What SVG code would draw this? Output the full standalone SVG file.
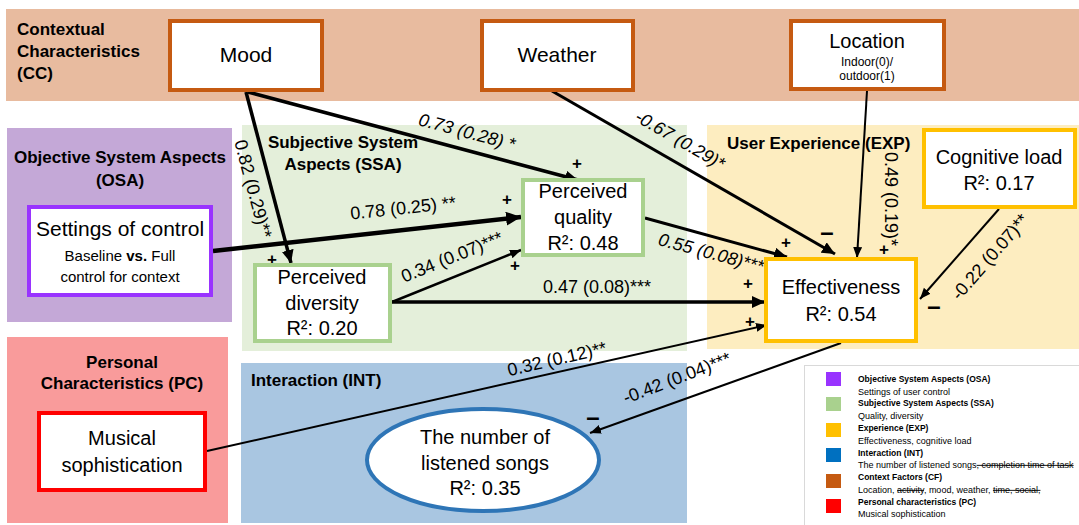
<svg xmlns="http://www.w3.org/2000/svg" width="1079" height="525" viewBox="0 0 1079 525">
<style>
text{font-family:"Liberation Sans",Arial,sans-serif;fill:#000}
.ttl{font-size:17px;font-weight:bold}
.nd{font-size:20px;text-anchor:middle}
.nd21{font-size:21px;text-anchor:middle}
.lbl{font-size:18px;text-anchor:middle}
.it{font-style:italic}
.sg{font-size:17px;font-weight:bold;text-anchor:middle}
.mn{font-size:24px;font-weight:bold;text-anchor:middle}
.box{fill:#fff;stroke-width:4}
.cc{stroke:#c55a11}
.ssa{stroke:#a9d18e}
.exp{stroke:#ffc000}
.conn{stroke:#000;fill:none}
.lgb{font-size:8.5px;font-weight:bold}
.lgn{font-size:9px}
.strike{text-decoration:line-through}
</style>
<defs>
<marker id="ahL" markerUnits="userSpaceOnUse" markerWidth="16" markerHeight="14" refX="15" refY="7" orient="auto">
<path d="M0,0 L15,7 L0,14 z" fill="#000"/>
</marker>
<marker id="ahM" markerUnits="userSpaceOnUse" markerWidth="14" markerHeight="12" refX="13" refY="6" orient="auto">
<path d="M0,0 L13,6 L0,12 z" fill="#000"/>
</marker>
<marker id="ahS" markerUnits="userSpaceOnUse" markerWidth="12" markerHeight="10" refX="11" refY="4.5" orient="auto">
<path d="M0,0 L11,4.5 L0,9 z" fill="#000"/>
</marker>
</defs>

<g id="panels">
<rect x="6" y="9" width="1073" height="92" fill="#e8bb9f"/>
<rect x="7" y="128" width="225" height="194" fill="#c4a8d7"/>
<rect x="242" y="125" width="445" height="226" fill="#e4efda"/>
<rect x="707" y="125" width="372" height="224" fill="#fdedc0"/>
<rect x="7" y="337" width="221" height="186" fill="#f99b9b"/>
<rect x="241" y="363" width="446" height="160" fill="#a9c6e1"/>
<text class="ttl" x="17" y="35">Contextual</text>
<text class="ttl" x="17" y="57">Characteristics</text>
<text class="ttl" x="17" y="79">(CC)</text>
<text class="ttl" x="120" y="163" text-anchor="middle">Objective System Aspects</text>
<text class="ttl" x="120" y="186" text-anchor="middle">(OSA)</text>
<text class="ttl" x="343" y="148" text-anchor="middle">Subjective System</text>
<text class="ttl" x="343" y="170" text-anchor="middle">Aspects (SSA)</text>
<text class="ttl" x="727" y="149">User Experience (EXP)</text>
<text class="ttl" x="122" y="368" text-anchor="middle">Personal</text>
<text class="ttl" x="122" y="389" text-anchor="middle">Characteristics (PC)</text>
<text class="ttl" x="251" y="386">Interaction (INT)</text>
</g>

<g id="connectors">
<line class="conn" x1="246" y1="92" x2="291" y2="263" stroke-width="3.5" marker-end="url(#ahM)"/>
<line class="conn" x1="248" y1="92" x2="578" y2="180" stroke-width="3.5" marker-end="url(#ahM)"/>
<line class="conn" x1="213" y1="251" x2="521" y2="217" stroke-width="4.5" marker-end="url(#ahL)"/>
<line class="conn" x1="392" y1="302" x2="521" y2="250" stroke-width="2.5" marker-end="url(#ahS)"/>
<line class="conn" x1="392" y1="302" x2="765" y2="302" stroke-width="3.5" marker-end="url(#ahM)"/>
<line class="conn" x1="645" y1="218" x2="787" y2="257" stroke-width="3" marker-end="url(#ahM)"/>
<line class="conn" x1="552" y1="91" x2="835" y2="254" stroke-width="3" marker-end="url(#ahM)"/>
<line class="conn" x1="867" y1="91" x2="857" y2="258" stroke-width="2" marker-end="url(#ahS)"/>
<line class="conn" x1="999" y1="209" x2="920" y2="299" stroke-width="2" marker-end="url(#ahS)"/>
<line class="conn" x1="207" y1="451" x2="767" y2="325" stroke-width="2" marker-end="url(#ahS)"/>
<line class="conn" x1="841" y1="343" x2="590" y2="433" stroke-width="2" marker-end="url(#ahS)"/>
<text class="lbl" transform="translate(253,189) rotate(75)" y="6">0.82 (0.29)**</text>
<text class="lbl it" transform="translate(467,132) rotate(15)" y="6">0.73 (0.28) *</text>
<text class="lbl" transform="translate(403,208) rotate(-6)" y="6">0.78 (0.25) **</text>
<text class="lbl" transform="translate(452,257) rotate(-22)" y="6">0.34 (0.07)***</text>
<text class="lbl" x="597" y="293">0.47 (0.08)***</text>
<text class="lbl it" transform="translate(711,253) rotate(15)" y="6">0.55 (0.08)***</text>
<text class="lbl it" transform="translate(680,140) rotate(30)" y="6">-0.67 (0.29)*</text>
<text class="lbl" transform="translate(891,199) rotate(90)" y="6">0.49 (0.19)*</text>
<text class="lbl" transform="translate(990,257) rotate(-49)" y="6">-0.22 (0.07)**</text>
<text class="lbl" transform="translate(557,359) rotate(-13)" y="6">0.32 (0.12)**</text>
<text class="lbl" transform="translate(677,378) rotate(-21)" y="6">-0.42 (0.04)***</text>
<text class="sg" x="272" y="265">+</text>
<text class="sg" x="577" y="169">+</text>
<text class="sg" x="507" y="205">+</text>
<text class="sg" x="515" y="271">+</text>
<text class="sg" x="786" y="248">+</text>
<text class="sg" x="748" y="289">+</text>
<text class="sg" x="750" y="327">+</text>
<text class="sg" x="884" y="255">+</text>
<text class="mn" x="827" y="240">–</text>
<text class="mn" x="934" y="314">–</text>
<text class="mn" x="593" y="425">–</text>
</g>

<g id="mood">
<rect class="box cc" x="170" y="21" width="152" height="69"/>
<text class="nd21" x="246" y="62">Mood</text>
</g>
<g id="weather">
<rect class="box cc" x="482" y="21" width="151" height="69"/>
<text class="nd21" x="557" y="62">Weather</text>
</g>
<g id="location">
<rect class="box cc" x="791" y="21" width="153" height="68"/>
<text class="nd" x="867" y="48">Location</text>
<text x="867" y="66" font-size="12" text-anchor="middle">Indoor(0)/</text>
<text x="867" y="80" font-size="12" text-anchor="middle">outdoor(1)</text>
</g>
<g id="settings">
<rect class="box" stroke="#9933ff" x="29" y="207" width="182" height="88"/>
<text class="nd21" x="120" y="236">Settings of control</text>
<text x="120" y="261" font-size="15" text-anchor="middle">Baseline <tspan font-weight="bold">vs.</tspan> Full</text>
<text x="120" y="282" font-size="15" text-anchor="middle">control for context</text>
</g>
<g id="quality">
<rect class="box ssa" x="523" y="180" width="120" height="75"/>
<text class="nd" x="583" y="198">Perceived</text>
<text class="nd" x="583" y="224">quality</text>
<text class="nd" x="583" y="250">R²: 0.48</text>
</g>
<g id="diversity">
<rect class="box ssa" x="255" y="265" width="135" height="76"/>
<text class="nd" x="322" y="284">Perceived</text>
<text class="nd" x="322" y="310">diversity</text>
<text class="nd" x="322" y="335">R²: 0.20</text>
</g>
<g id="effectiveness">
<rect class="box exp" x="766" y="259" width="150" height="82"/>
<text class="nd" x="841" y="294">Effectiveness</text>
<text class="nd" x="841" y="321">R²: 0.54</text>
</g>
<g id="cognitive">
<rect class="box exp" x="924" y="130" width="151" height="77"/>
<text class="nd" x="999" y="164">Cognitive load</text>
<text class="nd" x="999" y="190">R²: 0.17</text>
</g>
<g id="musical">
<rect class="box" stroke="#ff0000" x="39" y="413" width="166" height="77"/>
<text class="nd" x="122" y="445">Musical</text>
<text class="nd" x="122" y="472">sophistication</text>
</g>
<g id="songs">
<ellipse cx="483" cy="460" rx="116" ry="51" fill="#fff" stroke="#2e75b6" stroke-width="4"/>
<text class="nd" x="485" y="444">The number of</text>
<text class="nd" x="485" y="470">listened songs</text>
<text class="nd" x="485" y="495">R²: 0.35</text>
</g>

<g id="legend">
<rect x="804.5" y="365.5" width="280" height="165" fill="#fff" stroke="#d9d9d9"/>
<rect x="826" y="372" width="15" height="14" fill="#9933ff"/>
<rect x="826" y="397" width="15" height="14" fill="#a9d18e"/>
<rect x="826" y="423" width="15" height="14" fill="#ffc000"/>
<rect x="826" y="448" width="15" height="14" fill="#0070c0"/>
<rect x="826" y="474" width="15" height="14" fill="#c55a11"/>
<rect x="826" y="499" width="15" height="14" fill="#ff0000"/>
<text class="lgb" x="858" y="382">Objective System Aspects (OSA)</text>
<text class="lgn" x="858" y="395">Settings of user control</text>
<text class="lgb" x="858" y="406">Subjective System Aspects (SSA)</text>
<text class="lgn" x="858" y="419">Quality, diversity</text>
<text class="lgb" x="858" y="431">Experience (EXP)</text>
<text class="lgn" x="858" y="444">Effectiveness, cognitive load</text>
<text class="lgb" x="858" y="456">Interaction (INT)</text>
<text class="lgn" x="858" y="468">The number of listened songs<tspan class="strike">, completion time of task</tspan></text>
<text class="lgb" x="858" y="480">Context Factors (CF)</text>
<text class="lgn" x="858" y="493">Location, <tspan class="strike">activity</tspan>, mood, weather, <tspan class="strike">time, social,</tspan></text>
<text class="lgb" x="858" y="505">Personal characteristics (PC)</text>
<text class="lgn" x="858" y="517">Musical sophistication</text>
</g>
</svg>
